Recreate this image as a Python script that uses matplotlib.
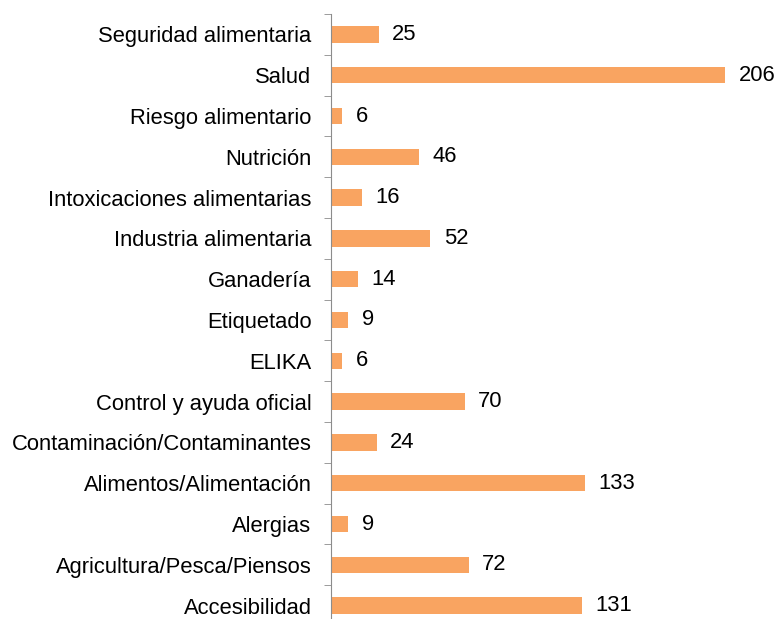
import matplotlib.pyplot as plt
import numpy as np

plt.rcParams['font.family'] = ['Liberation Sans', 'DejaVu Sans']

categories = [
    "Seguridad alimentaria", "Salud", "Riesgo alimentario", "Nutrición",
    "Intoxicaciones alimentarias", "Industria alimentaria", "Ganadería",
    "Etiquetado", "ELIKA", "Control y ayuda oficial",
    "Contaminación/Contaminantes", "Alimentos/Alimentación", "Alergias",
    "Agricultura/Pesca/Piensos", "Accesibilidad",
]
values = [25, 206, 6, 46, 16, 52, 14, 9, 6, 70, 24, 133, 9, 72, 131]

fig = plt.figure(figsize=(7.77, 6.19), dpi=100)
ax = fig.add_axes([331 / 777, -7 / 619, 446 / 777, 612 / 619])

y = np.arange(len(categories))
ax.barh(y, values, height=0.4, color="#F9A461")
for yi, v in zip(y, values):
    ax.text(v + 7, yi, str(v), va="center", ha="left", fontsize=15.8)

ax.set_xlim(0, 446 / 1.913)
ax.set_ylim(len(categories) - 0.5, -0.5)
ax.set_yticks(y)
ax.set_yticklabels(categories, fontsize=15.8)
ax.tick_params(axis="y", which="major", length=0, pad=14)
ax.set_yticks(np.arange(len(categories) + 1) - 0.5, minor=True)
ax.tick_params(axis="y", which="minor", length=5, color="#8C8C8C")
ax.set_xticks([])
for s in ["top", "right", "bottom"]:
    ax.spines[s].set_visible(False)
ax.spines["left"].set_color("#8C8C8C")

fig.savefig("out.png", dpi=100)
